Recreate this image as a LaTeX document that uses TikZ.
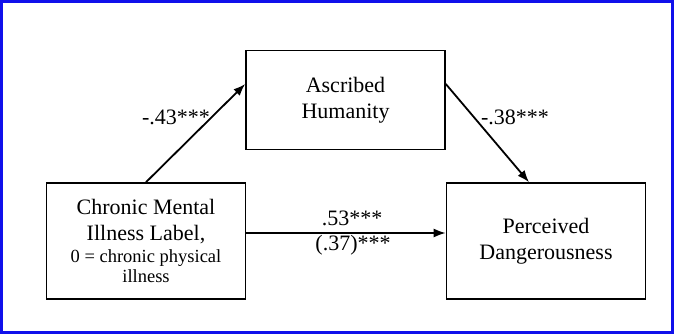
\documentclass[tikz,border=0pt]{standalone}
\usepackage{fontspec}
\setmainfont{Liberation Serif}
\usepackage{tikz}
\usetikzlibrary{arrows.meta}
\newcommand{\boxfont}{\fontsize{22}{26}\selectfont}
\newcommand{\notefont}{\fontsize{18.5}{20}\selectfont}
\definecolor{frameblue}{RGB}{16,16,235}

\begin{document}
\begin{tikzpicture}[x=1pt, y=1pt,
		varbox/.style={draw, line width=1.6pt, minimum width=199pt, align=center, font=\boxfont},
		path/.style={line width=1.8pt, -{Latex[length=12pt, width=9pt]}},
		coef/.style={font=\boxfont, inner sep=0pt}]
		\useasboundingbox(0, 0) rectangle (674, 334);
		\draw[frameblue, line width=3.4pt](1.7, 1.7) rectangle (672.3, 332.3);
		\node[varbox, minimum height=99pt](hum) at (345.5, 234){Ascribed\\Humanity};
		\node[varbox, minimum height=116pt](ill) at (146, 93){Chronic Mental\\Illness Label,\\[-4pt]{\notefont 0 = chronic physical}\\[-6pt]{\notefont illness}};
		\node[varbox, minimum height=116pt](dng) at (546, 93){Perceived\\Dangerousness};
		\draw[path](ill.north)--([yshift=16pt]hum.west);
		\draw[path]([yshift=16pt]hum.east)--([xshift=-17pt]dng.north);
		\draw[path]([yshift=8pt]ill.east)--([yshift=8pt]dng.west);
		\node[coef](a) at (176, 217){-.43***};
		\node[coef](b) at (515, 217){-.38***};
		\node[coef](c) at (352, 116){.53***};
		\node[coef](c2) at (353, 89){(.37)***};
	\end{tikzpicture}
\end{document}
